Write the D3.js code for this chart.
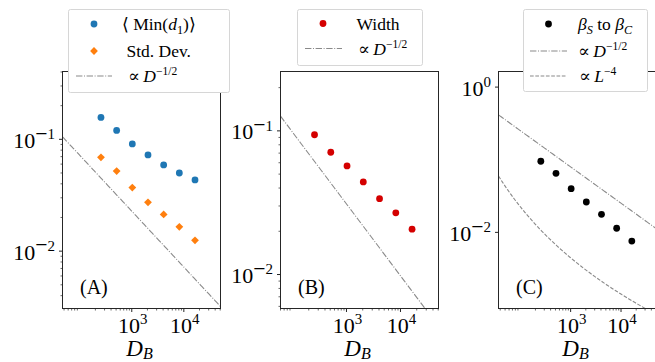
<!DOCTYPE html>
<html>
<head>
<meta charset="utf-8">
<script src="https://cdn.jsdelivr.net/npm/d3@7"></script>
<style>
  html, body { margin: 0; padding: 0; background: #fff; }
  svg { display: block; font-family: "Liberation Serif", "Times New Roman", "DejaVu Serif", serif; }
</style>
</head>
<body>
<svg id="chart" width="655" height="362"></svg>
<script>
// ---- data -------------------------------------------------------------
// bond dimension D_B (powers of two)
const dB = [256, 512, 1024, 2048, 4096, 8192, 16384];
// (A) mean minimum distance and its standard deviation
const minD1  = [0.157, 0.120, 0.091, 0.0725, 0.059, 0.050, 0.0433];
const stdDev = [0.069, 0.052, 0.037, 0.0273, 0.0213, 0.0165, 0.0125];
// (B) width
const widthB = [0.094, 0.071, 0.057, 0.0441, 0.0337, 0.0269, 0.0207];
// (C) beta_S to beta_C
const betaSC = [0.0953, 0.0651, 0.0399, 0.0262, 0.0177, 0.0114, 0.0076];

// guide-line prefactors: c * D^(-1/2) and c * L^(-4) with L = log2(D)
const guideA = 0.72;
const guideB = 0.98;
const guideC = 2.52;
const guideL = 44;

// tick values
const xTicks   = [1e3, 1e4];
const yTicksAB = [1e-2, 1e-1];
const yTicksC  = [1e-2, 1e0];

// ---- helpers ----------------------------------------------------------
const svg = d3.select('#chart');
const TOP = 71.5, BOTTOM = 308.5;
const AXIS = '#262626';
const GUIDE = '#8a8a8a';
const DASHDOT = '6.4,1.6,1,1.6';
const DASHED = '3.7,1.6';

// rich text with relative shifts so the whole string stays one anchored chunk
// parts = [{t, it, sup, sub, scale, lift}]
function rich(textSel, parts, size, opts = {}) {
  const supRaise = opts.supRaise != null ? opts.supRaise : size * 0.40;
  const subDrop = opts.subDrop != null ? opts.subDrop : size * 0.20;
  const supScale = opts.supScale || 0.68;
  let cur = 0;
  textSel.attr('font-size', size);
  parts.forEach(p => {
    let fs = size, off = 0;
    if (p.sup) { fs = size * supScale; off = -supRaise; }
    if (p.sub) { fs = size * 0.70; off = subDrop; }
    if (p.scale) fs *= p.scale;
    if (p.lift) off += p.lift;
    const ts = textSel.append('tspan').attr('dy', off - cur).attr('font-size', fs).text(p.t);
    cur = off;
    if (p.it) ts.attr('font-style', 'italic');
  });
  return textSel;
}

// 10^e with a wide math-style minus in the exponent
function pow10Parts(v) {
  const e = Math.round(Math.log10(v));
  const parts = [{ t: '10' }];
  if (e < 0) parts.push({ t: '\u2212', sup: true, scale: 1.45, lift: 1.6 });
  parts.push({ t: String(Math.abs(e)), sup: true });
  return parts;
}

function marker(g, shape, cx, cy, color) {
  if (shape === 'diamond') {
    const r = 3.9;
    g.append('path')
      .attr('d', `M${cx},${cy - r}L${cx + r},${cy}L${cx},${cy + r}L${cx - r},${cy}Z`)
      .attr('fill', color);
  } else {
    g.append('circle').attr('cx', cx).attr('cy', cy).attr('r', 3.4).attr('fill', color);
  }
}

function minorTicks(domain) {
  const out = [];
  const lo = Math.floor(Math.log10(domain[0])), hi = Math.ceil(Math.log10(domain[1]));
  for (let k = lo; k <= hi; k++)
    for (let m = 2; m <= 9; m++) {
      const v = m * Math.pow(10, k);
      if (v >= domain[0] && v <= domain[1]) out.push(v);
    }
  return out;
}

// ---- panels -----------------------------------------------------------
const propD = [{ t: '\u221D\u2009' }, { t: 'D', it: true }, { t: '\u22121/2', sup: true }];

const panels = [
  {
    label: '(A)', x0: 62.5, x1: 220.5,
    xDomain: [46.7, 50600], yDomain: [0.00307, 0.404],
    yTicks: yTicksAB, yMinor: true,
    series: [
      { values: minD1, color: '#1f77b4', shape: 'circle' },
      { values: stdDev, color: '#ff7f0e', shape: 'diamond' }
    ],
    guides: [{ f: d => guideA * Math.pow(d, -0.5), dash: DASHDOT }],
    legend: {
      box: [68.5, 9.5, 229.5, 92.5], mx: 94, lx: [76, 112],
      rows: [
        { y: 24, kind: 'marker', shape: 'circle', color: '#1f77b4', tx: 122,
          parts: [{ t: '\u27E8 Min(' }, { t: 'd', it: true }, { t: '1', sub: true }, { t: ')\u27E9' }] },
        { y: 51, kind: 'marker', shape: 'diamond', color: '#ff7f0e', tx: 126.5,
          parts: [{ t: 'Std. Dev.' }] },
        { y: 76, kind: 'line', dash: DASHDOT, tx: 128, parts: propD }
      ]
    }
  },
  {
    label: '(B)', x0: 280.5, x1: 438.5,
    xDomain: [60, 50600], yDomain: [0.0058, 0.259],
    yTicks: yTicksAB, yMinor: true,
    series: [{ values: widthB, color: '#d40000', shape: 'circle' }],
    guides: [{ f: d => guideB * Math.pow(d, -0.5), dash: DASHDOT }],
    legend: {
      box: [297.5, 9.5, 422.5, 65.5], mx: 323, lx: [305, 342],
      rows: [
        { y: 23.5, kind: 'marker', shape: 'circle', color: '#d40000', tx: 356.5,
          parts: [{ t: 'Width' }] },
        { y: 48.5, kind: 'line', dash: DASHDOT, tx: 358, parts: propD }
      ]
    }
  },
  {
    label: '(C)', x0: 498.5, x1: 656.5,
    xDomain: [37, 50600], yDomain: [0.000895, 1.64],
    yTicks: yTicksC, yMinor: false,
    series: [{ values: betaSC, color: '#000000', shape: 'circle' }],
    guides: [
      { f: d => guideC * Math.pow(d, -0.5), dash: DASHDOT },
      { f: d => guideL * Math.pow(Math.log2(d), -4), dash: DASHED }
    ],
    legend: {
      box: [523.5, 9.5, 647.5, 91.5], mx: 548.5, lx: [530, 567],
      rows: [
        { y: 24, kind: 'marker', shape: 'circle', color: '#000000', tx: 578,
          parts: [{ t: '\u03B2', it: true }, { t: 'S', it: true, sub: true }, { t: ' to ' },
                  { t: '\u03B2', it: true }, { t: 'C', it: true, sub: true }] },
        { y: 51, kind: 'line', dash: DASHDOT, tx: 578, parts: propD },
        { y: 76, kind: 'line', dash: DASHED, tx: 579,
          parts: [{ t: '\u221D\u2009' }, { t: 'L', it: true }, { t: '\u22124', sup: true }] }
      ]
    }
  }
];

panels.forEach((p, i) => {
  const x = d3.scaleLog().domain(p.xDomain).range([p.x0, p.x1]);
  const y = d3.scaleLog().domain(p.yDomain).range([BOTTOM, TOP]);
  const g = svg.append('g');

  const clipId = 'clip' + i;
  svg.append('clipPath').attr('id', clipId)
    .append('rect').attr('x', p.x0).attr('y', TOP).attr('width', p.x1 - p.x0).attr('height', BOTTOM - TOP);

  // guide lines sampled across the full x-range
  const lx0 = Math.log10(p.xDomain[0]), lx1 = Math.log10(p.xDomain[1]);
  const xs = d3.range(0, 121).map(k => Math.pow(10, lx0 + (lx1 - lx0) * k / 120));
  const line = d3.line().x(d => x(d[0])).y(d => y(d[1]));
  p.guides.forEach(gd => {
    g.append('path')
      .attr('clip-path', `url(#${clipId})`)
      .attr('d', line(xs.map(d => [d, gd.f(d)])))
      .attr('fill', 'none').attr('stroke', GUIDE).attr('stroke-width', 1.1)
      .attr('stroke-dasharray', gd.dash);
  });

  // data points
  p.series.forEach(s => {
    s.values.forEach((v, j) => marker(g, s.shape, x(dB[j]), y(v), s.color));
  });

  // spines
  g.append('rect')
    .attr('x', p.x0).attr('y', TOP).attr('width', p.x1 - p.x0).attr('height', BOTTOM - TOP)
    .attr('fill', 'none').attr('stroke', AXIS).attr('stroke-width', 1);

  const tickOpts = { supRaise: 8.8, supScale: 0.68 };

  // x ticks
  xTicks.forEach(v => {
    const px = x(v);
    g.append('line').attr('x1', px).attr('x2', px).attr('y1', BOTTOM).attr('y2', BOTTOM + 3.5)
      .attr('stroke', AXIS).attr('stroke-width', 1);
    rich(g.append('text').attr('x', px + 1).attr('y', 332.5).attr('text-anchor', 'middle'),
         pow10Parts(v), 22, tickOpts);
  });
  minorTicks(p.xDomain).forEach(v => {
    const px = x(v);
    if (px > p.x1 + 0.1) return;
    g.append('line').attr('x1', px).attr('x2', px).attr('y1', BOTTOM).attr('y2', BOTTOM + 2)
      .attr('stroke', AXIS).attr('stroke-width', 0.7);
  });

  // y ticks
  p.yTicks.forEach(v => {
    const py = y(v);
    g.append('line').attr('x1', p.x0 - 3.5).attr('x2', p.x0).attr('y1', py).attr('y2', py)
      .attr('stroke', AXIS).attr('stroke-width', 1);
    rich(g.append('text').attr('x', p.x0 - 7.5).attr('y', py + 8.5).attr('text-anchor', 'end'),
         pow10Parts(v), 22, tickOpts);
  });
  if (p.yMinor) {
    minorTicks(p.yDomain).forEach(v => {
      const py = y(v);
      g.append('line').attr('x1', p.x0 - 2).attr('x2', p.x0).attr('y1', py).attr('y2', py)
        .attr('stroke', AXIS).attr('stroke-width', 0.7);
    });
  }

  // axis label D_B
  rich(g.append('text').attr('x', (p.x0 + p.x1) / 2 - 2).attr('y', 356).attr('text-anchor', 'middle'),
       [{ t: 'D', it: true }, { t: 'B', it: true, sub: true }], 23, { subDrop: 3 });

  // panel tag
  g.append('text').attr('x', p.x0 + 17.5).attr('y', 294).attr('font-size', 20).text(p.label);

  // legend
  const L = p.legend;
  const lg = svg.append('g');
  lg.append('rect')
    .attr('x', L.box[0]).attr('y', L.box[1])
    .attr('width', L.box[2] - L.box[0]).attr('height', L.box[3] - L.box[1])
    .attr('rx', 2).attr('fill', '#fff').attr('stroke', '#d6d6d6').attr('stroke-width', 1);
  L.rows.forEach(r => {
    if (r.kind === 'marker') {
      marker(lg, r.shape, L.mx, r.y, r.color);
    } else {
      lg.append('line').attr('x1', L.lx[0]).attr('x2', L.lx[1]).attr('y1', r.y).attr('y2', r.y)
        .attr('stroke', GUIDE).attr('stroke-width', 1.1).attr('stroke-dasharray', r.dash);
    }
    rich(lg.append('text').attr('x', r.tx).attr('y', r.y + 6), r.parts, 17.5, { supRaise: 7, supScale: 0.66 });
  });
});
</script>
</body>
</html>
